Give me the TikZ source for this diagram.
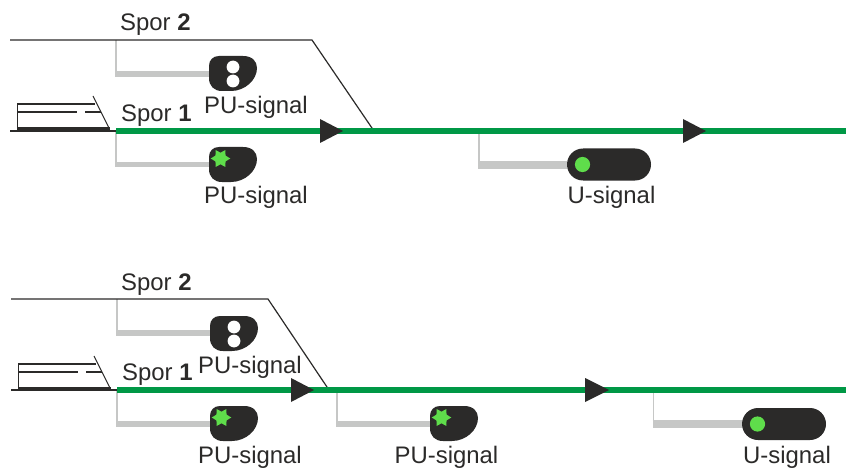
\documentclass[tikz,border=0pt]{standalone}
\usepackage{fontspec}
\setmainfont{Liberation Sans}
\definecolor{ink}{HTML}{2B2A29}
\definecolor{trackgreen}{HTML}{009846}
\definecolor{lamp}{HTML}{5FDD4B}
\definecolor{post}{HTML}{C6C7C6}
\tikzset{
  x=1pt,y=-1pt,
  lbl/.style={inner sep=0pt,text=ink,font=\fontsize{23.9}{28}\selectfont,anchor=base},
  sporlbl/.style={lbl,anchor=base west},
  rail/.style={draw=ink,line width=1.2pt},
  livetrack/.style={draw=trackgreen,line width=6pt},
  mast/.style={draw=post,line width=1.6pt},
  arm/.style={draw=post,line width=5.5pt},
  thickarm/.style={draw=post,line width=7.8pt},
  dirmark/.style={fill=ink,draw=none},
  pubody/.pic={
    \fill[ink] (10,0) -- (34,0) .. controls (43,0) and (48,5) .. (48,12)
      .. controls (48,24) and (36,35) .. (22,35) -- (13,35)
      .. controls (5,35) and (0,30) .. (0,22) -- (0,10) .. controls (0,4) and (4,0) .. (10,0) -- cycle;
  },
  pudots/.pic={
    \pic {pubody};
    \coordinate (-w) at (0,17.5);
    \fill[white] (24,11) circle[radius=6.4];
    \fill[white] (24,25) circle[radius=6.4];
  },
  pustar/.pic={
    \pic {pubody};
    \coordinate (-w) at (0,17.5);
    \fill[lamp,shift={(11.5,11.5)}] (0:9.8) -- (30:5.8) -- (60:9.8) -- (90:5.8) -- (120:9.8) -- (150:5.8)
      -- (180:9.8) -- (210:5.8) -- (240:9.8) -- (270:5.8) -- (300:9.8) -- (330:5.8) -- cycle;
  },
  usignal/.pic={
    \fill[ink] (16,0) -- (68,0) arc[start angle=-90,end angle=90,radius=16,y=1pt] -- (16,32) arc[start angle=90,end angle=270,radius=16,y=1pt] -- cycle;
    \fill[lamp] (15.5,16) circle[radius=7.6];
    \coordinate (-w) at (0,16);
  },
  trainpic/.pic={
    \draw[ink,line width=1.1pt] (0,0) -- (78,0) (0.5,0) -- (0.5,24);
    \draw[ink,line width=1.1pt] (0.5,8) -- (60,8) (68,8) -- (84,8);
    \draw[ink,line width=1.1pt] (76,-8) -- (92,24);
    \fill[ink] (0,22.8) rectangle (93,27);
  }
}
\begin{document}
\begin{tikzpicture}
\useasboundingbox (0,0) rectangle (846,468);

% ---------- upper diagram
\coordinate (a0) at (10,40);
\coordinate (a1) at (116,40);
\coordinate (a2) at (312,40);
\coordinate (a3) at (374,131);
\coordinate (b0) at (10,131);
\coordinate (b1) at (116,131);
\coordinate (b2) at (846,131);
\coordinate (c1) at (116,74);
\coordinate (c2) at (116,164.5);
\coordinate (c3) at (479,133);
\coordinate (c4) at (479,165);

\pic (sa) at (209,56) {pudots};
\pic (sb) at (209,147) {pustar};
\pic (sc) at (567,148.5) {usignal};

\draw[mast] (a1) -- (c1);
\draw[mast] (b1) -- (c2);
\draw[mast] (c3) -- (c4);
\draw[arm] ([xshift=-0.8pt]c1) -- (sa-w |- c1);
\draw[arm] ([xshift=-0.8pt]c2) -- (sb-w |- c2);
\draw[thickarm] ([xshift=-0.8pt]c4) -- (sc-w |- c4);
\draw[rail] (a0) -- (a2) -- (a3);
\draw[rail] (b0) -- (b1);
\draw[livetrack] (b1) -- (b2);
\pic at (17,104) {trainpic};
\fill[dirmark] (320,119) -- (343,131) -- (320,143) -- cycle;
\fill[dirmark] (683,119) -- (706,131) -- (683,143) -- cycle;

\node[sporlbl] (t1) at (120,31) {Spor \textbf{2}};
\node[sporlbl] (t2) at (121,121.5) {Spor \textbf{1}};
\node[lbl] (t3) at (256,113.5) {PU-signal};
\node[lbl] (t4) at (256,203.5) {PU-signal};
\node[lbl] (t5) at (611.5,203.5) {U-signal};

% ---------- lower diagram
\coordinate (d0) at (11,299);
\coordinate (d1) at (117,299);
\coordinate (d2) at (268,299);
\coordinate (d3) at (329,390);
\coordinate (e0) at (11,390);
\coordinate (e1) at (117,390);
\coordinate (e2) at (846,390);
\coordinate (f1) at (117,333);
\coordinate (f2) at (117,424);
\coordinate (f3) at (337,390);
\coordinate (f4) at (337,424);
\coordinate (f5) at (653.5,392);
\coordinate (f6) at (653.5,424);

\pic (sd) at (210,316) {pudots};
\pic (se) at (210,406) {pustar};
\pic (sf) at (430,406) {pustar};
\pic (sg) at (742,408) {usignal};

\draw[mast] (d1) -- (f1);
\draw[mast] (e1) -- (f2);
\draw[mast] (f3) -- (f4);
\draw[mast] (f5) -- (f6);
\draw[arm] ([xshift=-0.8pt]f1) -- (sd-w |- f1);
\draw[arm] ([xshift=-0.8pt]f2) -- (se-w |- f2);
\draw[arm] ([xshift=-0.8pt]f4) -- (sf-w |- f4);
\draw[thickarm] ([xshift=-0.8pt]f6) -- (sg-w |- f6);
\draw[rail] (d0) -- (d2) -- (d3);
\draw[rail] (e0) -- (e1);
\draw[livetrack] (e1) -- (e2);
\pic at (18,364) {trainpic};
\fill[dirmark] (291,378) -- (314,390) -- (291,402) -- cycle;
\fill[dirmark] (585,378) -- (609,390) -- (585,402) -- cycle;

\node[sporlbl] (t6) at (121,290) {Spor \textbf{2}};
\node[sporlbl] (t7) at (122,380.5) {Spor \textbf{1}};
\node[lbl] (t8) at (250,373) {PU-signal};
\node[lbl] (t9) at (250,463.5) {PU-signal};
\node[lbl] (t10) at (446.5,463.5) {PU-signal};
\node[lbl] (t11) at (787,463.5) {U-signal};
\end{tikzpicture}
\end{document}
